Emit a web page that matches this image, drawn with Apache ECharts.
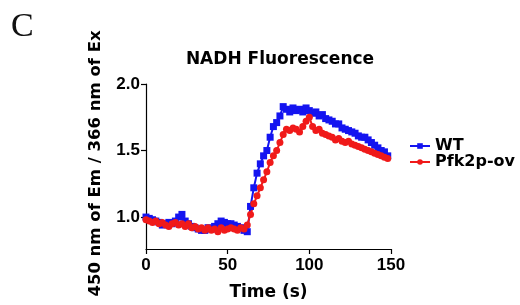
<!DOCTYPE html>
<html>
<head>
<meta charset="utf-8">
<script src="https://cdn.jsdelivr.net/npm/echarts@6/dist/echarts.min.js"></script>
<style>
  html, body { margin:0; padding:0; background:#fff; }
  #nadhChart { width:520px; height:305px; }
</style>
</head>
<body>
<div id="nadhChart"></div>
<script>
// time points (s), every 2 s
var timeSec = [];
for (var t = 0; t <= 148; t += 2) { timeSec.push(t); }

// 450 nm Em / 366 nm Ex ratio
var wtValues = [
    1.00,0.99,0.98,0.97,0.96,0.94,0.95,0.96,0.95,0.97,
    1.00,1.02,0.97,0.95,0.93,0.92,0.91,0.90,0.90,0.92,
    0.91,0.93,0.95,0.97,0.96,0.95,0.95,0.94,0.93,0.92,
    0.90,0.89,1.08,1.22,1.33,1.40,1.46,1.50,1.60,1.68,
    1.71,1.76,1.83,1.81,1.79,1.82,1.80,1.81,1.79,1.82,
    1.80,1.78,1.79,1.76,1.77,1.74,1.73,1.72,1.70,1.70,
    1.67,1.66,1.65,1.64,1.63,1.61,1.60,1.60,1.58,1.56,
    1.54,1.52,1.50,1.49,1.46
];
var pfkValues = [
    0.98,0.97,0.96,0.97,0.95,0.96,0.94,0.93,0.95,0.96,
    0.94,0.95,0.93,0.95,0.92,0.93,0.91,0.92,0.90,0.92,
    0.90,0.91,0.89,0.92,0.90,0.91,0.92,0.91,0.90,0.92,
    0.91,0.94,1.02,1.10,1.16,1.22,1.28,1.34,1.41,1.46,
    1.50,1.56,1.62,1.66,1.65,1.67,1.66,1.64,1.68,1.72,
    1.75,1.68,1.65,1.66,1.63,1.62,1.61,1.60,1.58,1.59,
    1.57,1.56,1.57,1.55,1.54,1.53,1.52,1.51,1.50,1.49,
    1.48,1.47,1.46,1.45,1.44
];

var xTicks = [0, 50, 100, 150];
var yTicks = [1.0, 1.5, 2.0];

var pairs = function(xs, ys){
    return xs.map(function(x, i){ return [x, ys[i]]; });
};

var chart = echarts.init(document.getElementById('nadhChart'), null, {renderer:'canvas'});

chart.setOption({
    animation:false,
    backgroundColor:'#fff',
    title:{
        text:'NADH Fluorescence',
        left:275,
        textAlign:'center',
        top:46,
        textStyle:{fontFamily:'DejaVu Sans', fontWeight:'bold', fontSize:17, color:'#000'}
    },
    graphic:[{
        type:'text',
        left:11,
        top:10,
        style:{text:'C', fontFamily:'Liberation Serif', fontSize:34, fill:'#111'}
    }],
    legend:{
        orient:'vertical',
        left:404,
        top:133,
        itemWidth:20,
        itemHeight:7,
        itemGap:0,
        textStyle:{fontFamily:'DejaVu Sans', fontWeight:'bold', fontSize:16, lineHeight:16, color:'#000'},
        data:['WT', 'Pfk2p-ov']
    },
    grid:{
        left:146,
        right:129,
        top:84,
        bottom:56,
        containLabel:false,
        outerBoundsMode:'none'
    },
    xAxis:{
        type:'value',
        min:0,
        max:150,
        interval:50,
        name:'Time (s)',
        nameLocation:'middle',
        nameGap:35,
        nameTextStyle:{fontFamily:'DejaVu Sans', fontWeight:'bold', fontSize:17, color:'#000'},
        axisLine:{show:true, lineStyle:{color:'#000', width:1.2}},
        axisTick:{show:true, length:5, lineStyle:{color:'#000', width:1.2}, customValues:xTicks},
        axisLabel:{fontFamily:'Liberation Sans', fontWeight:'bold', fontSize:17, color:'#000', margin:8, customValues:xTicks},
        splitLine:{show:false}
    },
    yAxis:{
        type:'value',
        min:0.76,
        max:2.0,
        name:'450 nm of Em / 366 nm of Ex',
        nameLocation:'middle',
        nameGap:42,
        nameTextStyle:{fontFamily:'DejaVu Sans', fontWeight:'bold', fontSize:16.5, color:'#000', padding:[0, 0, 0, 6]},
        axisLine:{show:true, lineStyle:{color:'#000', width:1.2}},
        axisTick:{show:true, length:5, lineStyle:{color:'#000', width:1.2}, customValues:yTicks},
        axisLabel:{
            fontFamily:'Liberation Sans', fontWeight:'bold', fontSize:17, color:'#000', margin:6,
            customValues:yTicks,
            formatter:function(v){ return v.toFixed(1); }
        },
        splitLine:{show:false}
    },
    series:[{
        name:'WT',
        type:'line',
        data:pairs(timeSec, wtValues),
        symbol:'rect',
        symbolSize:7,
        color:'#1414f0',
        lineStyle:{width:2, color:'#1414f0'},
        itemStyle:{color:'#1414f0'}
    },{
        name:'Pfk2p-ov',
        type:'line',
        data:pairs(timeSec, pfkValues),
        symbol:'circle',
        symbolSize:7,
        color:'#f01a1a',
        lineStyle:{width:2, color:'#f01a1a'},
        itemStyle:{color:'#f01a1a'}
    }]
});
</script>
</body>
</html>
